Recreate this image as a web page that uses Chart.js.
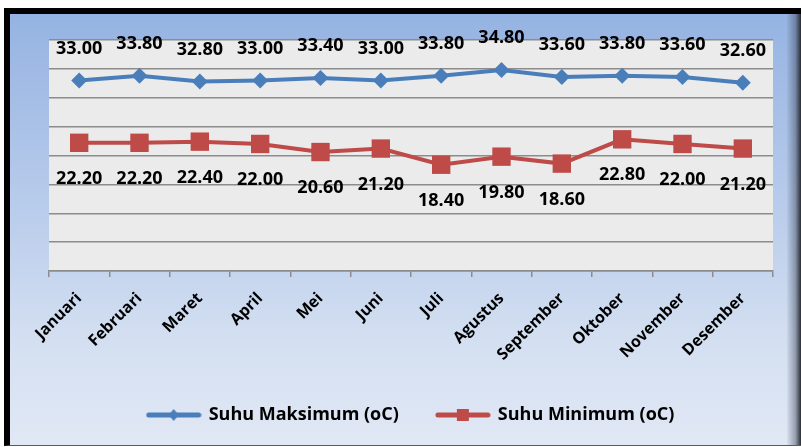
<!DOCTYPE html>
<html lang="id">

<head>
  <meta charset="UTF-8">
  <title>Suhu Udara</title>
  <style>
    html, body {
      margin: 0;
      padding: 0;
      background-color: #ffffff;
      width: 801px;
      height: 447px;
      overflow: hidden;
    }

    #frame {
      position: absolute;
      left: 4px;
      top: 8px;
      width: 797px;
      height: 438px;
      box-sizing: border-box;
      border-top: 6px solid #000;
      border-left: 6px solid #000;
      border-bottom: 1px solid #555a66;
      background: linear-gradient(to bottom, #95b3e2 0%, #b9cceb 45%, #d3dff1 75%, #e1e8f5 100%);
    }

    #shade {
      position: absolute;
      right: 0;
      top: 0;
      width: 14px;
      height: 100%;
      background: linear-gradient(to right, rgba(60, 70, 90, 0.05), rgba(60, 70, 90, 0.45) 60%, #2a2d33 100%);
    }

    #wrap {
      position: absolute;
      left: 0;
      top: 0;
      width: 801px;
      height: 447px;
    }
  </style>
</head>

<body>
  <div id="frame"><div id="shade"></div></div>
  <div id="wrap"><canvas id="chart"></canvas></div>
  <script src="https://cdn.jsdelivr.net/npm/chart.js@4.4.0/dist/chart.umd.min.js"></script>
  <script>
    // data
    const months = ['Januari', 'Februari', 'Maret', 'April', 'Mei', 'Juni', 'Juli', 'Agustus', 'September', 'Oktober', 'November', 'Desember']
    const suhuMaks = [33.0, 33.8, 32.8, 33.0, 33.4, 33.0, 33.8, 34.8, 33.6, 33.8, 33.6, 32.6]
    const suhuMin = [22.2, 22.2, 22.4, 22.0, 20.6, 21.2, 18.4, 19.8, 18.6, 22.8, 22.0, 21.2]

    const blue = '#4a7ebb'
    const red = '#be4b48'
    const font = '"Open Sans", sans-serif'

    // little line + marker used as legend symbol (excel style)
    const legendSymbol = (color, shape) => {
      const c = document.createElement('canvas')
      c.width = 56
      c.height = 14
      const g = c.getContext('2d')
      g.strokeStyle = color
      g.lineWidth = 5
      g.lineCap = 'round'
      g.beginPath()
      g.moveTo(3, 7)
      g.lineTo(53, 7)
      g.stroke()
      g.fillStyle = color
      g.beginPath()
      if (shape == 'diamond') {
        g.moveTo(28, 1); g.lineTo(33, 7); g.lineTo(28, 13); g.lineTo(23, 7)
      } else {
        g.rect(22, 1, 12, 12)
      }
      g.closePath()
      g.fill()
      return c
    }
    const symbols = [legendSymbol(blue, 'diamond'), legendSymbol(red, 'square')]

    const plotBackground = {
      id: 'plotBackground',
      beforeDraw(chart) {
        const { ctx, chartArea: a } = chart
        ctx.save()
        ctx.fillStyle = '#ebebeb'
        ctx.fillRect(a.left, a.top, a.right - a.left, a.bottom - a.top)
        ctx.restore()
      }
    }

    const valueLabels = {
      id: 'valueLabels',
      afterDatasetsDraw(chart) {
        const ctx = chart.ctx
        ctx.save()
        ctx.font = 'bold 18px ' + font
        ctx.textAlign = 'center'
        ctx.textBaseline = 'middle'
        ctx.fillStyle = '#000'
        chart.data.datasets.forEach((ds, i) => {
          const shift = i == 0 ? -32 : 36
          chart.getDatasetMeta(i).data.forEach((pt, j) => {
            ctx.fillText(ds.data[j].toFixed(2), pt.x, pt.y + shift)
          })
        })
        ctx.restore()
      }
    }

    const ctx = document.getElementById('chart').getContext('2d')
    const chart = new Chart(ctx, {
      type: 'line',
      data: {
        labels: months,
        datasets: [{
          label: 'Suhu Maksimum (oC)',
          data: suhuMaks,
          borderColor: blue,
          backgroundColor: blue,
          borderWidth: 4,
          pointStyle: 'rectRot',
          pointRadius: 8,
          pointBorderWidth: 0,
          tension: 0
        }, {
          label: 'Suhu Minimum (oC)',
          data: suhuMin,
          borderColor: red,
          backgroundColor: red,
          borderWidth: 4,
          pointStyle: 'rect',
          pointRadius: 13,
          pointBorderWidth: 0,
          tension: 0
        }]
      },
      options: {
        responsive: true,
        maintainAspectRatio: false,
        animation: false,
        layout: {
          padding: { left: 49, right: 28, top: 40, bottom: 13 }
        },
        scales: {
          x: {
            offset: true,
            grid: {
              offset: true,
              drawOnChartArea: false,
              drawTicks: true,
              tickLength: 6,
              color: '#8c8c8c',
              lineWidth: 1.5
            },
            border: { display: true, color: '#8c8c8c', width: 1.5 },
            ticks: {
              color: '#000',
              font: { family: font, size: 16, weight: 'bold' },
              maxRotation: 45,
              minRotation: 45,
              padding: 12,
              autoSkip: false
            },
            afterFit(scale) {
              scale.paddingLeft = 0
              scale.paddingRight = 0
              scale.height = 97
            }
          },
          y: {
            min: 0,
            max: 40,
            ticks: { stepSize: 5, display: false },
            grid: { color: '#8c8c8c', lineWidth: 1.5, drawTicks: false },
            border: { display: false },
            afterFit(scale) {
              scale.width = 0
            }
          }
        },
        plugins: {
          legend: {
            position: 'bottom',
            labels: {
              color: '#000',
              font: { family: font, size: 18, weight: 'bold' },
              usePointStyle: true,
              pointStyleWidth: 52,
              padding: 38,
              generateLabels(chart) {
                return chart.data.datasets.map((ds, i) => ({
                  text: ds.label,
                  pointStyle: symbols[i],
                  fontColor: '#000',
                  datasetIndex: i,
                  hidden: false,
                  lineWidth: 0
                }))
              }
            }
          },
          tooltip: { enabled: false }
        }
      },
      plugins: [plotBackground, valueLabels]
    })
  </script>
</body>

</html>
